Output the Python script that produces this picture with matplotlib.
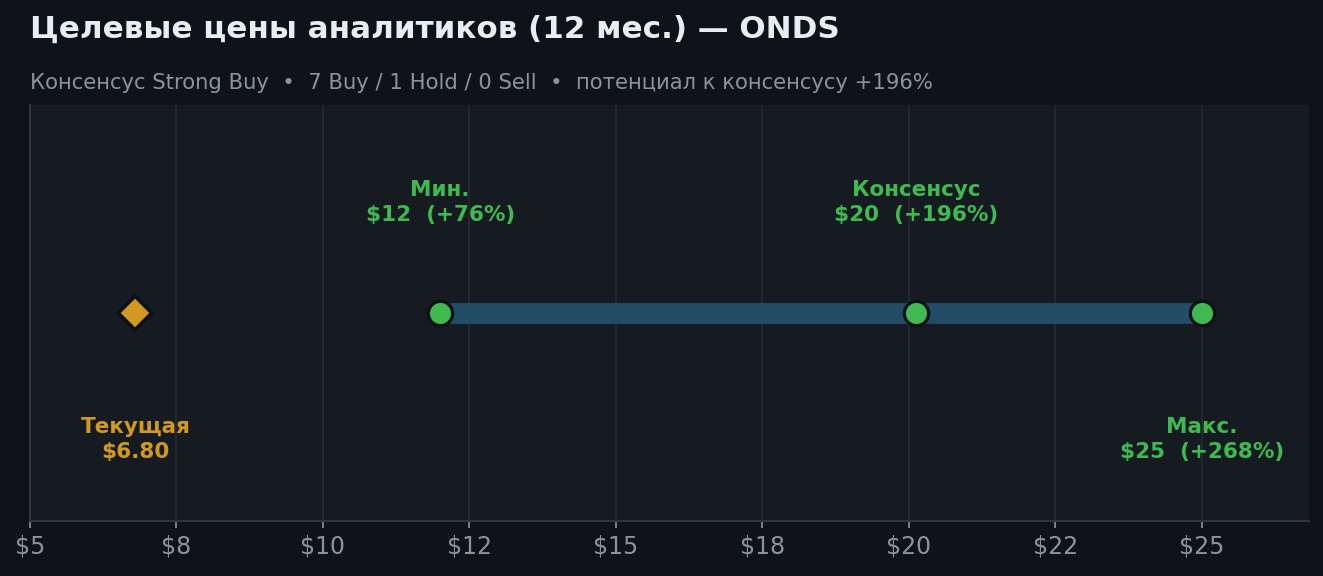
import matplotlib
matplotlib.use("Agg")
import matplotlib.pyplot as plt
from matplotlib.ticker import MultipleLocator, FuncFormatter

# data
current_price = 6.80
target_low = 12.0
target_mean = 20.13
target_high = 25.0
ticker = "ONDS"
n_buy, n_hold, n_sell = 7, 1, 0
rating = "Strong Buy"

point_names = ["Мин.", "Консенсус", "Макс."]
point_values = [target_low, target_mean, target_high]
point_above = [True, True, False]

# colours
BG_FIG = "#0f1317"
BG_AX = "#161a21"
GREEN = "#3fb950"
GOLD = "#d29922"
BAR = "#234d66"
TXT = "#e6edf3"
MUTED = "#8b949e"
GRID = "#262b33"
SPINE = "#30353d"

def upside(v):
    return (v / current_price - 1) * 100

fig = plt.figure(figsize=(13.23, 5.76), dpi=100, facecolor=BG_FIG)
ax = fig.add_axes([0.0227, 0.0955, 0.9667, 0.7222])
ax.set_facecolor(BG_AX)

# range bar
ax.hlines(0, target_low, target_high, colors=BAR, lw=15, zorder=2)
ax.plot(point_values, [0] * len(point_values), "o", ms=17.5, mfc=GREEN, mec="#0d1117", mew=2.3, zorder=4)
ax.plot([current_price], [0], "D", ms=17.5, mfc=GOLD, mec="#0d1117", mew=2.8, zorder=4)

for name, v, up in zip(point_names, point_values, point_above):
    y = 0.53 if up else -0.61
    ax.text(v, y, f"{name}\n${v:.0f}  ({upside(v):+.0f}%)", ha="center", va="center",
            color=GREEN, fontsize=15.5, fontweight="bold", linespacing=1.3, zorder=5)
ax.text(current_price, -0.61, f"Текущая\n${current_price:.2f}", ha="center", va="center",
        color=GOLD, fontsize=15.5, fontweight="bold", linespacing=1.3, zorder=5)

ax.set_xlim(5, 26.83)
ax.set_ylim(-1, 1)
ax.xaxis.set_major_locator(MultipleLocator(2.5))
ax.xaxis.set_major_formatter(FuncFormatter(lambda x, p: f"${x:.0f}"))
ax.set_yticks([])
ax.grid(axis="x", color=GRID, lw=1.2, zorder=0)
ax.set_axisbelow(True)
ax.tick_params(axis="x", colors=MUTED, labelsize=17, length=5, width=1.2, pad=5)
for s in ["top", "right"]:
    ax.spines[s].set_visible(False)
for s in ["left", "bottom"]:
    ax.spines[s].set_color(SPINE)
    ax.spines[s].set_linewidth(1.5)

fig.text(0.0227, 0.949, f"Целевые цены аналитиков (12 мес.) — {ticker}", color=TXT,
         fontsize=22.3, fontweight="bold", ha="left", va="center")
fig.text(0.0227, 0.856, f"Консенсус {rating}  •  {n_buy} Buy / {n_hold} Hold / {n_sell} Sell  •  "
         f"потенциал к консенсусу {upside(target_mean):+.0f}%", color=MUTED,
         fontsize=15.2, ha="left", va="center")

fig.savefig("out.png", dpi=100, facecolor=BG_FIG)
